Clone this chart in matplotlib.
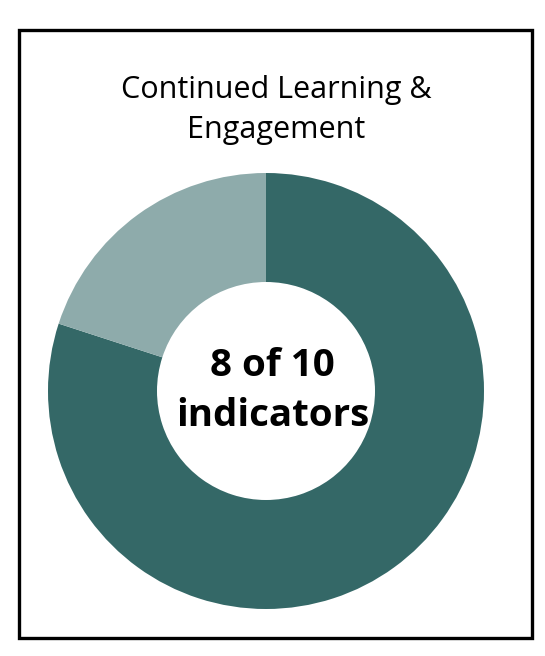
import matplotlib.pyplot as plt
from matplotlib.patches import Rectangle

# data
labels = ["Met", "Not met"]
values = [8, 2]
colors = ["#346867", "#8eabab"]
title = "Continued Learning &\nEngagement"
center_text = "8 of 10\nindicators"

W, H = 545, 656
fig = plt.figure(figsize=(W / 100, H / 100), dpi=100)
plt.rcParams['font.family'] = ['Open Sans', 'DejaVu Sans']

# donut: center (266, 391) px from top, radius 218 px
cx, cy, r = 266, 391, 218
ax = fig.add_axes([(cx - r) / W, (H - cy - r) / H, 2 * r / W, 2 * r / H])
ax.pie(values, colors=colors, startangle=90, counterclock=False,
       radius=1, wedgeprops=dict(width=0.5, edgecolor='none'))
ax.set_xlim(-1, 1)
ax.set_ylim(-1, 1)
ax.set_aspect('equal')
ax.axis('off')
ax.text(0.03, 0.0, center_text, ha='center', va='center', fontsize=27.7,
        fontweight='bold', linespacing=1.4)

# title
fig.text(276 / W, 1 - 110 / H, title, ha='center', va='center',
         fontsize=22, linespacing=1.45)

# outer frame
fig.add_artist(Rectangle((18.5 / W, 18.5 / H), (532 - 18.5) / W, (637.5 - 29.5) / H,
                         transform=fig.transFigure, fill=False,
                         edgecolor='black', lw=2.4))

fig.savefig("out.png", dpi=100)
